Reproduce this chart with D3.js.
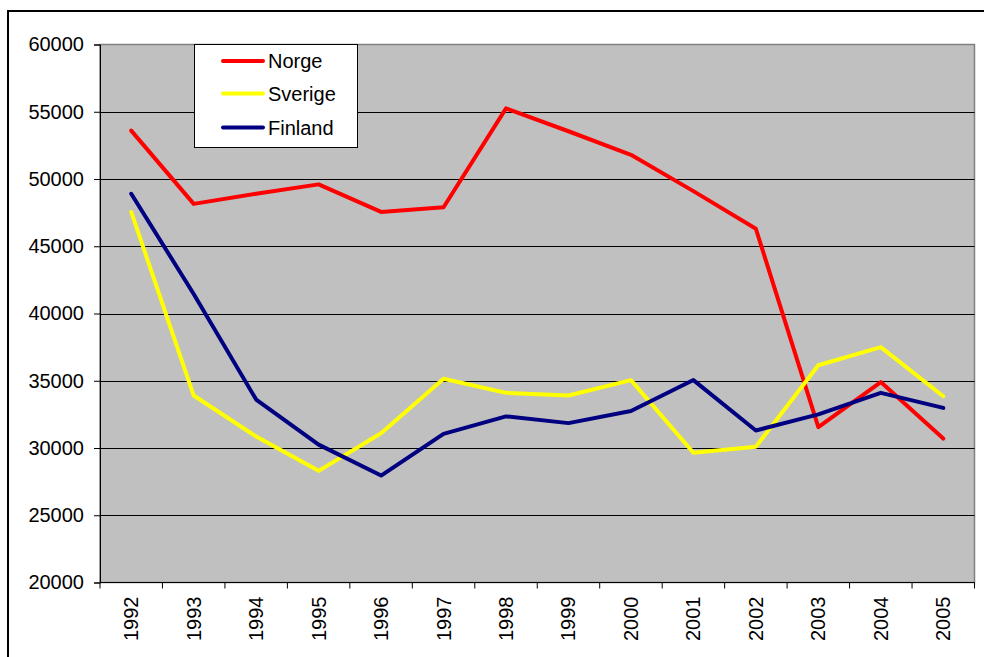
<!DOCTYPE html>
<html>
<head>
<meta charset="utf-8">
<script src="https://cdn.jsdelivr.net/npm/d3@7"></script>
<style>
  body { margin: 0; background: #fff; }
  text { font-family: "Liberation Sans", Arial, sans-serif; }
</style>
</head>
<body>
<div id="chart"></div>
<script>
/* DATA */
const years = ["1992","1993","1994","1995","1996","1997","1998","1999","2000","2001","2002","2003","2004","2005"];
const norge   = [53600, 48150, 48900, 49600, 47550, 47900, 55250, 53550, 51800, 49100, 46300, 31550, 34900, 30700];
const sverige = [47550, 33900, 30850, 28300, 31100, 35150, 34100, 33900, 35050, 29650, 30100, 36150, 37500, 33850];
const finland = [48900, 41450, 33600, 30250, 27950, 31050, 32350, 31850, 32750, 35050, 31300, 32500, 34100, 32980];
const seriesNames = ["Norge", "Sverige", "Finland"];
const seriesColors = ["#ff0000", "#ffff00", "#000080"];
const yTicks = [20000, 25000, 30000, 35000, 40000, 45000, 50000, 55000, 60000];

/* CONSTANTS */
const width = 984, height = 657;
const margin = { top: 44.5, bottom: 74, left: 100, right: 9.5 };

const svg = d3.select("#chart").append("svg")
  .attr("width", width)
  .attr("height", height);

// outer frame (runs off the page right and bottom)
svg.append("rect")
  .attr("x", 8).attr("y", 11)
  .attr("width", 1000).attr("height", 700)
  .attr("fill", "none").attr("stroke", "#000").attr("stroke-width", 2);

const x = d3.scaleBand()
  .domain(years)
  .range([margin.left, width - margin.right]);

const y = d3.scaleLinear()
  .domain([20000, 60000])
  .range([height - margin.bottom - 0.5, margin.top]);

// plot area
svg.append("rect")
  .attr("x", margin.left).attr("y", margin.top)
  .attr("width", width - margin.left - margin.right)
  .attr("height", y(20000) - margin.top)
  .attr("fill", "#c0c0c0")
  .attr("stroke", "#808080").attr("stroke-width", 1.5);

// gridlines
svg.append("g")
  .selectAll("line")
  .data(yTicks.filter(d => d > 20000 && d < 60000))
  .join("line")
  .attr("x1", margin.left).attr("x2", width - margin.right)
  .attr("y1", d => Math.round(y(d)) + 0.5).attr("y2", d => Math.round(y(d)) + 0.5)
  .attr("stroke", "#000").attr("stroke-width", 1);

// y axis
const yAxis = svg.append("g")
  .attr("transform", `translate(${margin.left},0)`)
  .call(d3.axisLeft(y).tickValues(yTicks).tickSize(6).tickPadding(10).tickFormat(d3.format("d")));
yAxis.selectAll("text").attr("font-size", 20).attr("fill", "#000").attr("font-family", "Liberation Sans, Arial, sans-serif");
yAxis.selectAll("line, path").attr("stroke", "#000");

// x axis: ticks at category boundaries
const xAxis = svg.append("g")
  .attr("transform", `translate(0,${y(20000)})`);
xAxis.append("line")
  .attr("x1", margin.left).attr("x2", width - margin.right)
  .attr("stroke", "#000");
xAxis.selectAll("line.tick")
  .data(years.concat(["end"]))
  .join("line")
  .attr("class", "tick")
  .attr("x1", (d, i) => i < years.length ? x(d) : x(years[years.length - 1]) + x.bandwidth())
  .attr("x2", (d, i) => i < years.length ? x(d) : x(years[years.length - 1]) + x.bandwidth())
  .attr("y1", 0).attr("y2", 6)
  .attr("stroke", "#000");
xAxis.selectAll("text")
  .data(years)
  .join("text")
  .attr("transform", d => `translate(${x(d) + x.bandwidth() / 2 + 7},14) rotate(-90)`)
  .attr("text-anchor", "end")
  .attr("font-size", 20)
  .text(d => d);

// lines
const line = d3.line()
  .x((d, i) => x(years[i]) + x.bandwidth() / 2)
  .y(d => y(d));

[norge, sverige, finland].forEach((vals, i) => {
  svg.append("path")
    .datum(vals)
    .attr("d", line)
    .attr("fill", "none")
    .attr("stroke", seriesColors[i])
    .attr("stroke-width", 4)
    .attr("stroke-linejoin", "round")
    .attr("stroke-linecap", "round");
});

// legend
const legend = svg.append("g");
legend.append("rect")
  .attr("x", 194.5).attr("y", 44.5)
  .attr("width", 163).attr("height", 103)
  .attr("fill", "#fff").attr("stroke", "#000");
const legRows = [61, 93.5, 127.5];
seriesNames.forEach((name, i) => {
  legend.append("line")
    .attr("x1", 223).attr("x2", 263)
    .attr("y1", legRows[i]).attr("y2", legRows[i])
    .attr("stroke", seriesColors[i]).attr("stroke-width", 4)
    .attr("stroke-linecap", "round");
  legend.append("text")
    .attr("x", 268).attr("y", legRows[i] + 7)
    .attr("font-size", 20)
    .text(name);
});
</script>
</body>
</html>
